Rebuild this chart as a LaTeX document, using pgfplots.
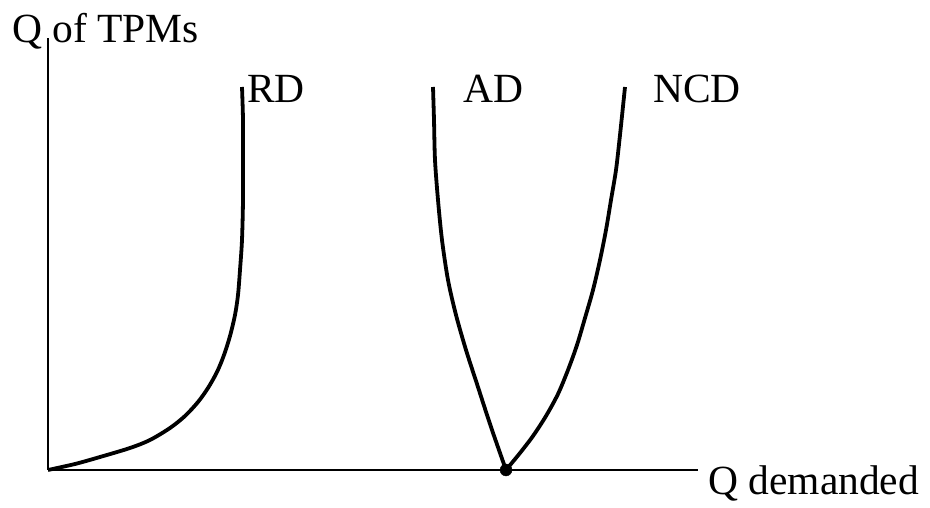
\documentclass[border=0pt]{standalone}
\usepackage{fontspec}
\setmainfont{Liberation Serif}
\usepackage{pgfplots}
\pgfplotsset{compat=1.18}
\newcommand{\bigf}{\fontsize{41.5}{48}\selectfont}
\begin{document}
\begin{tikzpicture}
\useasboundingbox (0,0) rectangle (930pt,508pt);
\begin{axis}[
  at={(48pt,38pt)}, anchor=south west,
  x=1pt, y=1pt,
  xmin=0, xmax=650, ymin=0, ymax=432,
  axis lines=left,
  axis line style={-, line width=2pt, black},
  ticks=none,
  clip=false,
]
% RD
\addplot[smooth, tension=0.5, line width=3.8pt, black] coordinates {
 (0,0) (27,6) (52,13) (82,22) (102,30) (122,42) (137,54) (150,68) (160,82)
 (169,98) (176,115) (182,134) (187,155) (190,175) (192,200) (194,230)
 (195,270) (195,310) (195,350) (194,383)};
% AD
\addplot[smooth, tension=0.5, line width=3.8pt, black] coordinates {
 (458,0) (443,43) (429,86) (418,120) (408,155) (400,190) (394,230)
 (390,270) (387,310) (386,350) (385,383)};
% NCD
\addplot[smooth, tension=0.5, line width=3.8pt, black] coordinates {
 (458,0) (472,17) (485,34) (498,54) (510,76) (520,100) (529,125) (537,152)
 (545,180) (552,210) (558,240) (563,270) (568,300) (572,335) (577,383)};
% dot
\addplot[only marks, mark=*, mark size=6pt, black] coordinates {(458,0)};
\node[anchor=base west, inner sep=0pt, font=\bigf] at (axis cs:-36,427) {Q of TPMs};
\node[anchor=base west, inner sep=0pt, font=\bigf] at (axis cs:199,367) {RD};
\node[anchor=base west, inner sep=0pt, font=\bigf] at (axis cs:415,367) {AD};
\node[anchor=base west, inner sep=0pt, font=\bigf] at (axis cs:605,367) {NCD};
\node[anchor=base west, inner sep=0pt, font=\bigf] at (axis cs:660,-25) {Q demanded};
\end{axis}
\end{tikzpicture}
\end{document}
